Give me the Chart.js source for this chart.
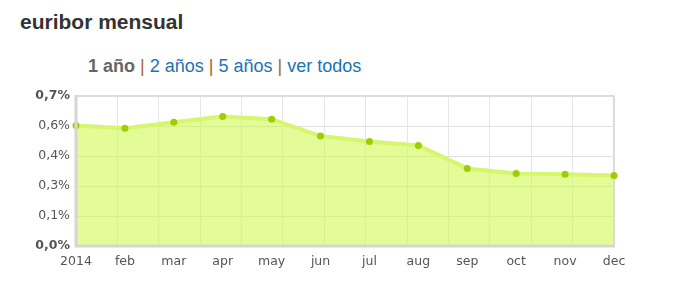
<!DOCTYPE html>
<html>
<head>
<meta charset="utf-8">
<script src="https://cdn.jsdelivr.net/npm/chart.js@4/dist/chart.umd.min.js"></script>
<style>
  body { margin: 0; background: #fff; width: 692px; height: 305px; position: relative; overflow: hidden; }
  h2 { position: absolute; left: 20px; top: 10px; margin: 0; font: bold 21px "Liberation Sans", Arial, sans-serif; color: #333; }
  .links { position: absolute; left: 88px; top: 56px; font: 18px "Liberation Sans", Arial, sans-serif; color: #1a73b8; }
  .links b { color: #666; }
  .links .sep { color: #a0662a; }
  #wrap { position: absolute; left: 0; top: 82px; width: 692px; height: 190px; }
</style>
</head>
<body>
<h2>euribor mensual</h2>
<div class="links"><b>1 año</b> <span class="sep">|</span> 2 años <span class="sep">|</span> 5 años <span class="sep">|</span> ver todos</div>
<div id="wrap"><canvas id="euribor"></canvas></div>
<script>
// data (euribor 2014, %)
const months = ['2014', 'feb', 'mar', 'apr', 'may', 'jun', 'jul', 'aug', 'sep', 'oct', 'nov', 'dec'];
const euribor = [0.562, 0.549, 0.577, 0.604, 0.592, 0.513, 0.488, 0.469, 0.362, 0.338, 0.335, 0.329];
const yMax = 0.7;
const yStep = 0.14;

// frame round the plot
const frame = {
  id: 'frame',
  beforeDatasetsDraw(chart) {
    const a = chart.chartArea, c = chart.ctx;
    c.save();
    c.strokeStyle = '#dcdcdc';
    c.lineWidth = 2;
    c.strokeRect(a.left, a.top, a.right - a.left, a.bottom - a.top);
    c.restore();
  },
  afterDatasetsDraw(chart) {
    const a = chart.chartArea, c = chart.ctx;
    c.save();
    c.strokeStyle = '#d6d6d6';
    c.lineWidth = 3;
    c.beginPath();
    c.moveTo(a.left, a.top - 1);
    c.lineTo(a.left, a.bottom);
    c.lineTo(a.right + 1, a.bottom);
    c.stroke();
    c.restore();
  }
};

const data = {
  labels: months,
  datasets: [{
    data: euribor,
    fill: 'origin',
    backgroundColor: 'rgba(206, 250, 68, 0.55)',
    borderColor: 'rgba(214, 246, 110, 1)',
    borderWidth: 4,
    tension: 0,
    pointRadius: 3.5,
    pointBackgroundColor: '#9ccf00',
    pointBorderWidth: 0,
    clip: false
  }]
};

const config = {
  type: 'line',
  data,
  plugins: [frame],
  options: {
    responsive: true,
    maintainAspectRatio: false,
    animation: false,
    layout: { padding: { left: 0, right: 78, top: 14, bottom: 0 } },
    plugins: {
      legend: { display: false },
      tooltip: { enabled: false }
    },
    scales: {
      x: {
        offset: false,
        grid: { display: false },
        border: { display: false },
        ticks: {
          color: '#555',
          font: { family: 'DejaVu Sans', size: 12.5 },
          padding: 0,
          maxRotation: 0,
          autoSkip: false
        },
        afterFit(scale) { scale.height = 26; }
      },
      xg: {
        type: 'linear',
        position: 'top',
        min: 0,
        max: 13,
        ticks: { display: false, stepSize: 1 },
        grid: { color: '#e6e6e6', drawTicks: false },
        border: { display: false },
        afterFit(scale) { scale.height = 0; }
      },
      y: {
        min: 0,
        max: yMax,
        ticks: {
          stepSize: yStep,
          color: '#555',
          padding: 6,
          font: ctx => ({
            family: 'DejaVu Sans',
            size: 12.5,
            weight: (ctx.index === 0 || ctx.index === 5) ? 'bold' : 'normal'
          }),
          callback: v => v.toFixed(1).replace('.', ',') + '%'
        },
        grid: { color: '#e0e0e0', drawTicks: false },
        border: { display: false },
        afterFit(scale) { scale.width = 76; }
      }
    }
  }
};

const myChart = new Chart(document.getElementById('euribor'), config);
</script>
</body>
</html>
